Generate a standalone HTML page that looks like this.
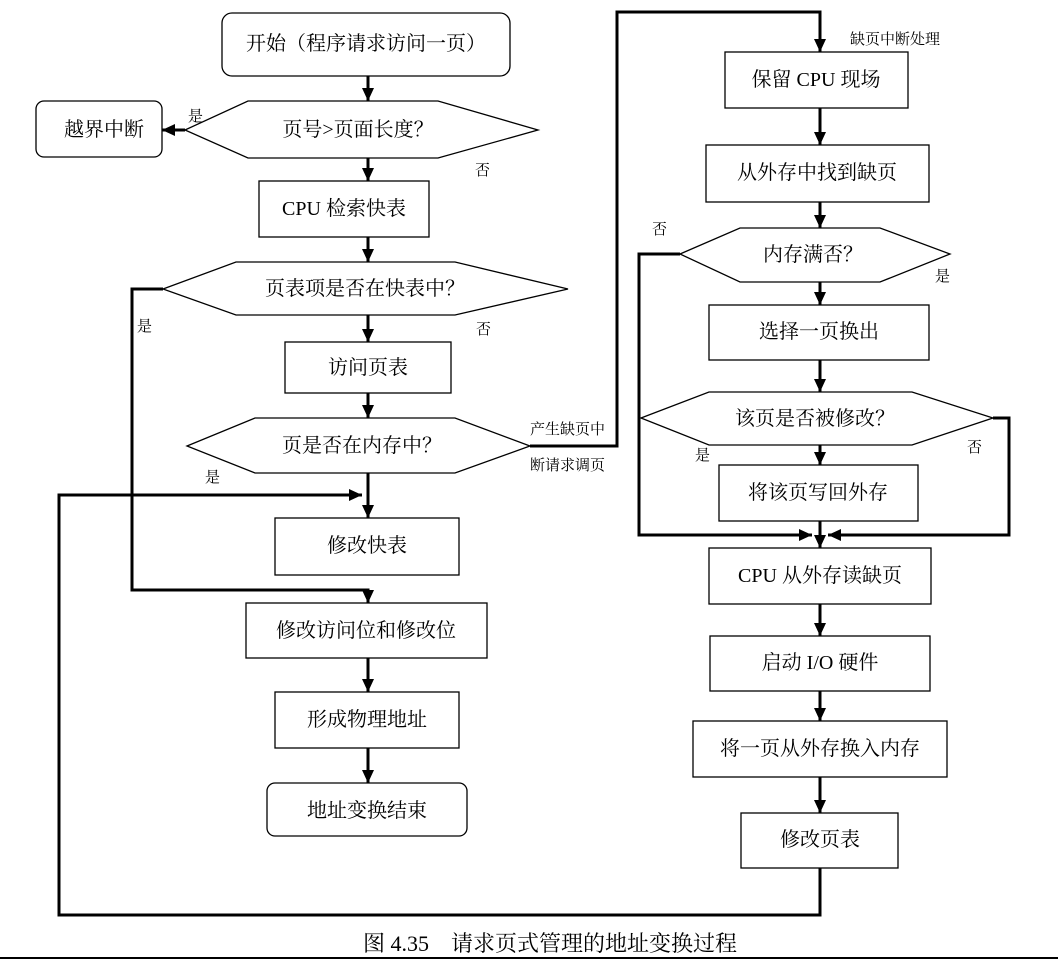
<!DOCTYPE html>
<html><head><meta charset="utf-8"><style>
html,body{margin:0;padding:0;background:#fff;}
svg text{font-family:"Liberation Serif","Noto Serif CJK SC",serif;fill:#000;}
.t{font-size:20px;text-anchor:middle;dominant-baseline:central;}
.s{font-size:15px;}
</style></head><body>
<svg width="1058" height="961" viewBox="0 0 1058 961" xmlns="http://www.w3.org/2000/svg">
<defs>
<marker id="b" markerWidth="14" markerHeight="14" refX="13" refY="7" orient="auto" markerUnits="userSpaceOnUse"><path d="M0,1 L13,7 L0,13 z" fill="#000"/></marker></defs>
<g fill="#fff" stroke="#000" stroke-width="1.3">
<rect x="222" y="13" width="288" height="63" rx="10"/>
<polygon points="185,130 248,101 438,101 538,130 438,158 248,158"/>
<rect x="36" y="101" width="126" height="56" rx="8"/>
<rect x="259" y="181" width="170" height="56"/>
<polygon points="163,289 236,262 455,262 568,289 455,315 236,315"/>
<rect x="285" y="342" width="166" height="51"/>
<polygon points="187,446 255,418 455,418 530,446 455,473 255,473"/>
<rect x="275" y="518" width="184" height="57"/>
<rect x="246" y="603" width="241" height="55"/>
<rect x="275" y="692" width="184" height="56"/>
<rect x="267" y="783" width="200" height="53" rx="8"/>
<rect x="725" y="52" width="183" height="56"/>
<rect x="706" y="145" width="223" height="57"/>
<polygon points="680,254 740,228 880,228 950,254 880,282 740,282"/>
<rect x="709" y="305" width="220" height="55"/>
<polygon points="641,418 709,392 912,392 993,418 912,445 709,445"/>
<rect x="719" y="465" width="199" height="56"/>
<rect x="709" y="548" width="222" height="56"/>
<rect x="710" y="636" width="220" height="55"/>
<rect x="693" y="721" width="254" height="56"/>
<rect x="741" y="813" width="157" height="55"/>
</g>
<g fill="none" stroke="#000" stroke-width="3" marker-end="url(#b)">
<line x1="368" y1="76" x2="368" y2="101"/>
<line x1="185" y1="130" x2="162" y2="130"/>
<line x1="368" y1="158" x2="368" y2="181"/>
<line x1="368" y1="237" x2="368" y2="262"/>
<line x1="368" y1="315" x2="368" y2="342"/>
<line x1="368" y1="393" x2="368" y2="418"/>
<line x1="368" y1="473" x2="368" y2="518"/>
<polyline points="163,289 132,289 132,590 368,590 368,603"/>
<line x1="368" y1="658" x2="368" y2="692"/>
<line x1="368" y1="748" x2="368" y2="783"/>
<polyline points="820,868 820,915 59,915 59,495 362,495"/>
<polyline points="530,446 617,446 617,12 820,12 820,52"/>
<line x1="820" y1="108" x2="820" y2="145"/>
<line x1="820" y1="202" x2="820" y2="228"/>
<line x1="820" y1="282" x2="820" y2="305"/>
<line x1="820" y1="360" x2="820" y2="392"/>
<line x1="820" y1="445" x2="820" y2="465"/>
<line x1="820" y1="521" x2="820" y2="548"/>
<polyline points="680,254 639,254 639,535 812,535"/>
<polyline points="993,418 1009,418 1009,535 828,535"/>
<line x1="820" y1="604" x2="820" y2="636"/>
<line x1="820" y1="691" x2="820" y2="721"/>
<line x1="820" y1="777" x2="820" y2="813"/>
</g>
<text class="t" x="366" y="44">开始（程序请求访问一页）</text>
<text class="t" x="358" y="130">页号&gt;页面长度？</text>
<text class="t" x="104" y="130">越界中断</text>
<text class="t" x="344" y="209">CPU 检索快表</text>
<text class="t" x="365" y="289">页表项是否在快表中？</text>
<text class="t" x="368" y="368">访问页表</text>
<text class="t" x="362" y="446">页是否在内存中？</text>
<text class="t" x="367" y="546">修改快表</text>
<text class="t" x="366" y="631">修改访问位和修改位</text>
<text class="t" x="367" y="720">形成物理地址</text>
<text class="t" x="367" y="811">地址变换结束</text>
<text class="t" x="816" y="80">保留 CPU 现场</text>
<text class="t" x="817" y="173">从外存中找到缺页</text>
<text class="t" x="813" y="255">内存满否？</text>
<text class="t" x="819" y="332">选择一页换出</text>
<text class="t" x="815" y="419">该页是否被修改？</text>
<text class="t" x="818" y="493">将该页写回外存</text>
<text class="t" x="820" y="576">CPU 从外存读缺页</text>
<text class="t" x="820" y="663">启动 I/O 硬件</text>
<text class="t" x="820" y="749">将一页从外存换入内存</text>
<text class="t" x="820" y="840">修改页表</text>
<g class="s">
<text x="188" y="121">是</text>
<text x="475" y="175">否</text>
<text x="137" y="331">是</text>
<text x="476" y="334">否</text>
<text x="205" y="482">是</text>
<text x="530" y="434">产生缺页中</text>
<text x="530" y="470">断请求调页</text>
<text x="850" y="44">缺页中断处理</text>
<text x="652" y="234">否</text>
<text x="935" y="281">是</text>
<text x="695" y="460">是</text>
<text x="967" y="452">否</text>
</g>
<text x="550" y="951" style="font-size:22px;text-anchor:middle">图 4.35　请求页式管理的地址变换过程</text>
<line x1="0" y1="958" x2="1058" y2="958" stroke="#000" stroke-width="2"/>
</svg>
</body></html>
